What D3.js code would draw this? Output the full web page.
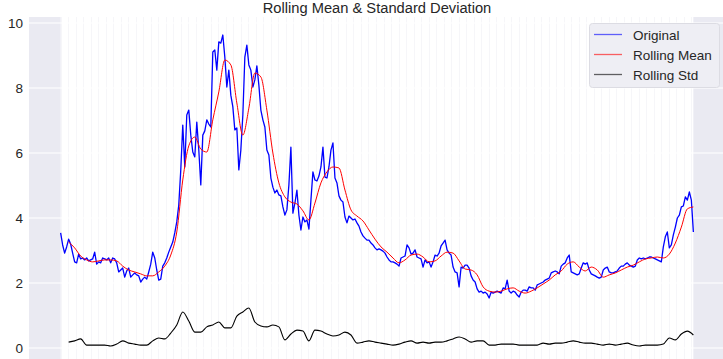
<!DOCTYPE html>
<html><head><meta charset="utf-8">
<script src="https://cdn.jsdelivr.net/npm/d3@7/dist/d3.min.js"></script>
<style>
body{margin:0;background:#fff;overflow:hidden;}
svg{display:block;font-family:"Liberation Sans",Arial,sans-serif;}
</style>
</head><body><svg id="c" width="723" height="359"></svg>
<script>
// ---- data (series indexed by time step) ----
const original = [
3.54,3.17,2.92,3.11,3.35,3.20,2.92,2.65,2.62,2.89,
2.74,2.77,2.71,2.77,2.68,2.71,2.74,2.95,2.58,2.65,
2.62,2.77,2.74,2.71,2.77,2.62,2.77,2.74,2.62,2.34,
2.40,2.46,2.18,2.37,2.46,2.18,2.25,2.31,2.25,2.22,
2.03,2.12,2.18,2.12,2.34,2.58,2.95,2.77,2.40,2.09,
2.12,2.52,2.62,2.77,2.95,3.11,3.26,3.54,3.88,4.40,
5.48,6.86,5.57,7.17,7.32,6.55,6.03,5.88,6.95,6.09,
5.02,6.55,6.68,7.02,6.89,6.80,9.11,9.17,8.55,9.42,
9.38,9.63,8.95,8.03,8.55,7.78,7.42,6.71,6.77,5.48,
6.09,7.17,8.95,9.32,8.71,8.55,8.03,8.25,8.68,8.09,
7.32,7.02,6.80,6.09,5.94,5.23,4.95,4.77,4.86,4.71,
4.68,4.34,4.09,4.25,5.02,6.18,4.15,4.46,4.86,4.09,
3.63,4.03,3.88,3.94,3.66,4.55,5.42,5.17,5.14,5.29,
5.57,6.18,5.26,5.23,5.57,6.09,6.31,5.23,5.08,4.68,
4.55,4.49,4.03,3.85,4.06,4.00,3.94,3.97,3.85,3.75,
3.57,3.45,3.38,3.32,3.32,3.23,3.17,3.08,3.02,3.05,
3.02,2.98,2.92,2.80,2.71,2.65,2.65,2.62,2.58,2.52,
2.77,2.80,2.83,3.17,3.08,2.89,2.92,3.02,2.80,2.77,
2.74,2.49,2.71,2.62,2.65,2.49,2.65,2.86,2.83,2.92,
3.14,3.23,3.32,3.02,2.92,2.86,2.49,2.34,2.31,1.88,
2.49,2.46,2.55,2.55,2.46,2.22,2.09,2.03,1.82,1.72,
1.75,1.69,1.72,1.66,1.54,1.72,1.69,1.72,1.75,1.72,
1.69,1.85,1.82,2.09,1.75,1.69,1.75,1.72,1.63,1.57,
1.72,1.78,1.78,1.75,1.88,1.85,1.85,1.78,1.94,1.97,
2.00,2.03,2.09,2.12,2.15,2.31,2.34,2.37,2.34,2.28,
2.52,2.58,2.62,2.77,2.86,2.34,2.31,2.28,2.25,2.28,
2.46,2.62,2.58,2.62,2.40,2.28,2.25,2.22,2.18,2.15,
2.18,2.40,2.46,2.49,2.34,2.31,2.31,2.34,2.37,2.46,
2.52,2.52,2.58,2.62,2.55,2.52,2.49,2.52,2.71,2.77,
2.74,2.77,2.74,2.77,2.80,2.80,2.77,2.74,2.71,2.68,
2.65,3.11,3.42,3.57,3.08,3.17,3.48,3.72,4.00,4.09,
4.34,4.37,4.65,4.55,4.80,4.55,3.57
];
const rollingMean = [
3.26,3.08,2.83,2.71,2.65,2.68,2.71,2.71,2.68,2.52,
2.40,2.34,2.28,2.22,2.22,2.34,2.52,2.86,3.57,5.17,
6.22,6.49,6.12,6.03,7.02,7.88,8.86,8.71,7.54,6.55,
7.38,8.46,8.34,7.32,6.00,5.08,4.65,4.49,4.43,4.22,
3.94,4.46,5.08,5.42,5.57,5.54,4.86,4.25,4.06,3.91,
3.63,3.35,3.11,2.95,2.77,2.62,2.71,2.86,2.89,2.80,
2.65,2.68,2.83,2.95,2.92,2.68,2.43,2.40,2.25,1.88,
1.75,1.72,1.75,1.82,1.85,1.75,1.69,1.75,1.85,1.97,
2.09,2.25,2.37,2.58,2.65,2.49,2.37,2.49,2.40,2.18,
2.25,2.31,2.40,2.49,2.55,2.65,2.74,2.77,2.80,2.77,
2.89,3.23,3.72,4.28,4.34
];
const rollingStd = [
0.18,0.22,0.28,0.09,0.09,0.09,0.09,0.06,0.12,0.22,
0.15,0.12,0.09,0.09,0.22,0.31,0.28,0.46,0.71,1.11,
0.83,0.49,0.49,0.65,0.71,0.80,0.62,0.62,0.98,1.11,
1.23,0.80,0.68,0.65,0.71,0.65,0.25,0.43,0.55,0.52,
0.22,0.55,0.52,0.43,0.37,0.40,0.49,0.40,0.15,0.18,
0.22,0.18,0.15,0.12,0.09,0.12,0.18,0.22,0.15,0.18,
0.15,0.18,0.18,0.22,0.28,0.34,0.28,0.18,0.22,0.22,
0.09,0.09,0.12,0.12,0.12,0.09,0.09,0.09,0.09,0.15,
0.12,0.15,0.15,0.18,0.22,0.18,0.15,0.15,0.12,0.09,
0.12,0.09,0.12,0.15,0.09,0.06,0.09,0.09,0.09,0.12,
0.31,0.25,0.43,0.52,0.40
];
const rollStart = 4;   // first time step of the rolling series
const rollStep = 3;    // time steps between rolling samples
const yTicks = [0, 2, 4, 6, 8, 10];
const titleText = "Rolling Mean & Standard Deviation";
const legendLabels = ["Original", "Rolling Mean", "Rolling Std"];
const seriesColors = ["#0000ff", "#ff0000", "#000000"];

// ---- layout ----
const svg = d3.select("#c");
const axL = 29, axR = 725, axT = 17, axB = 362;
const n = original.length - 1;
const pad = n * 0.05;
const x = d3.scaleLinear().domain([-pad, n + pad]).range([axL, axR]);
const y = d3.scaleLinear().domain([0, 10]).range([348, 23]);
const txt = "#262626";

// background
svg.append("rect").attr("x", axL).attr("y", axT).attr("width", axR - axL).attr("height", axB - axT).attr("fill", "#eaeaf2");

// dense vertical date gridlines (render nearly white)
svg.append("rect").attr("x", x(0)).attr("y", axT).attr("width", x(n) - x(0)).attr("height", axB - axT).attr("fill", "#ffffff");
const vgrid = d3.range(0, n + 0.01, 3.75);
svg.append("g").selectAll("line").data(vgrid).join("line")
  .attr("x1", d => Math.round(x(d)) + 0.5).attr("x2", d => Math.round(x(d)) + 0.5)
  .attr("y1", axT).attr("y2", axB)
  .attr("stroke", "#f6f6f9").attr("stroke-width", 1);

// horizontal gridlines + y axis
const yAxis = d3.axisLeft(y).tickValues(yTicks).tickSize(0).tickPadding(6).tickFormat(d3.format("d"));
const ga = svg.append("g").attr("transform", `translate(${axL},0)`).call(yAxis);
ga.select(".domain").remove();
ga.selectAll("text").attr("fill", txt).style("font-size", "13.5px").attr("dy", "0.35em");
svg.append("g").selectAll("line").data(yTicks).join("line")
  .attr("x1", axL).attr("x2", axR)
  .attr("y1", d => y(d)).attr("y2", d => y(d))
  .attr("stroke", "#ffffff").attr("stroke-width", 1.1);

// lines
const lineOrig = d3.line().x((d, i) => x(i)).y(d => y(d));
const lineRoll = d3.line().x((d, i) => x(rollStart + i * rollStep)).y(d => y(d)).curve(d3.curveMonotoneX);

svg.append("path").datum(original).attr("d", lineOrig)
  .attr("fill", "none").attr("stroke", seriesColors[0]).attr("stroke-width", 1.3).attr("stroke-linejoin", "round");
svg.append("path").datum(rollingMean).attr("d", lineRoll)
  .attr("fill", "none").attr("stroke", seriesColors[1]).attr("stroke-width", 1);
svg.append("path").datum(rollingStd).attr("d", lineRoll)
  .attr("fill", "none").attr("stroke", seriesColors[2]).attr("stroke-width", 1.1);

// title
svg.append("text").attr("x", (axL + axR) / 2).attr("y", 13).attr("text-anchor", "middle")
  .attr("fill", txt).style("font-size", "14.7px").text(titleText);

// legend
const lg = svg.append("g").attr("transform", "translate(589,23)");
lg.append("rect").attr("x", 0.5).attr("y", 0.5).attr("width", 130).attr("height", 64).attr("rx", 3)
  .attr("fill", "#eeeef4").attr("stroke", "#dcdce3").attr("stroke-width", 1);
legendLabels.forEach((lab, i) => {
  const yy = 11.5 + i * 20;
  lg.append("line").attr("x1", 5).attr("x2", 33).attr("y1", yy).attr("y2", yy)
    .attr("stroke", seriesColors[i]).attr("stroke-width", 1.3).attr("opacity", 0.6);
  lg.append("text").attr("x", 44).attr("y", yy + 5).attr("fill", txt).style("font-size", "13.5px").text(lab);
});
</script>
</body></html>
